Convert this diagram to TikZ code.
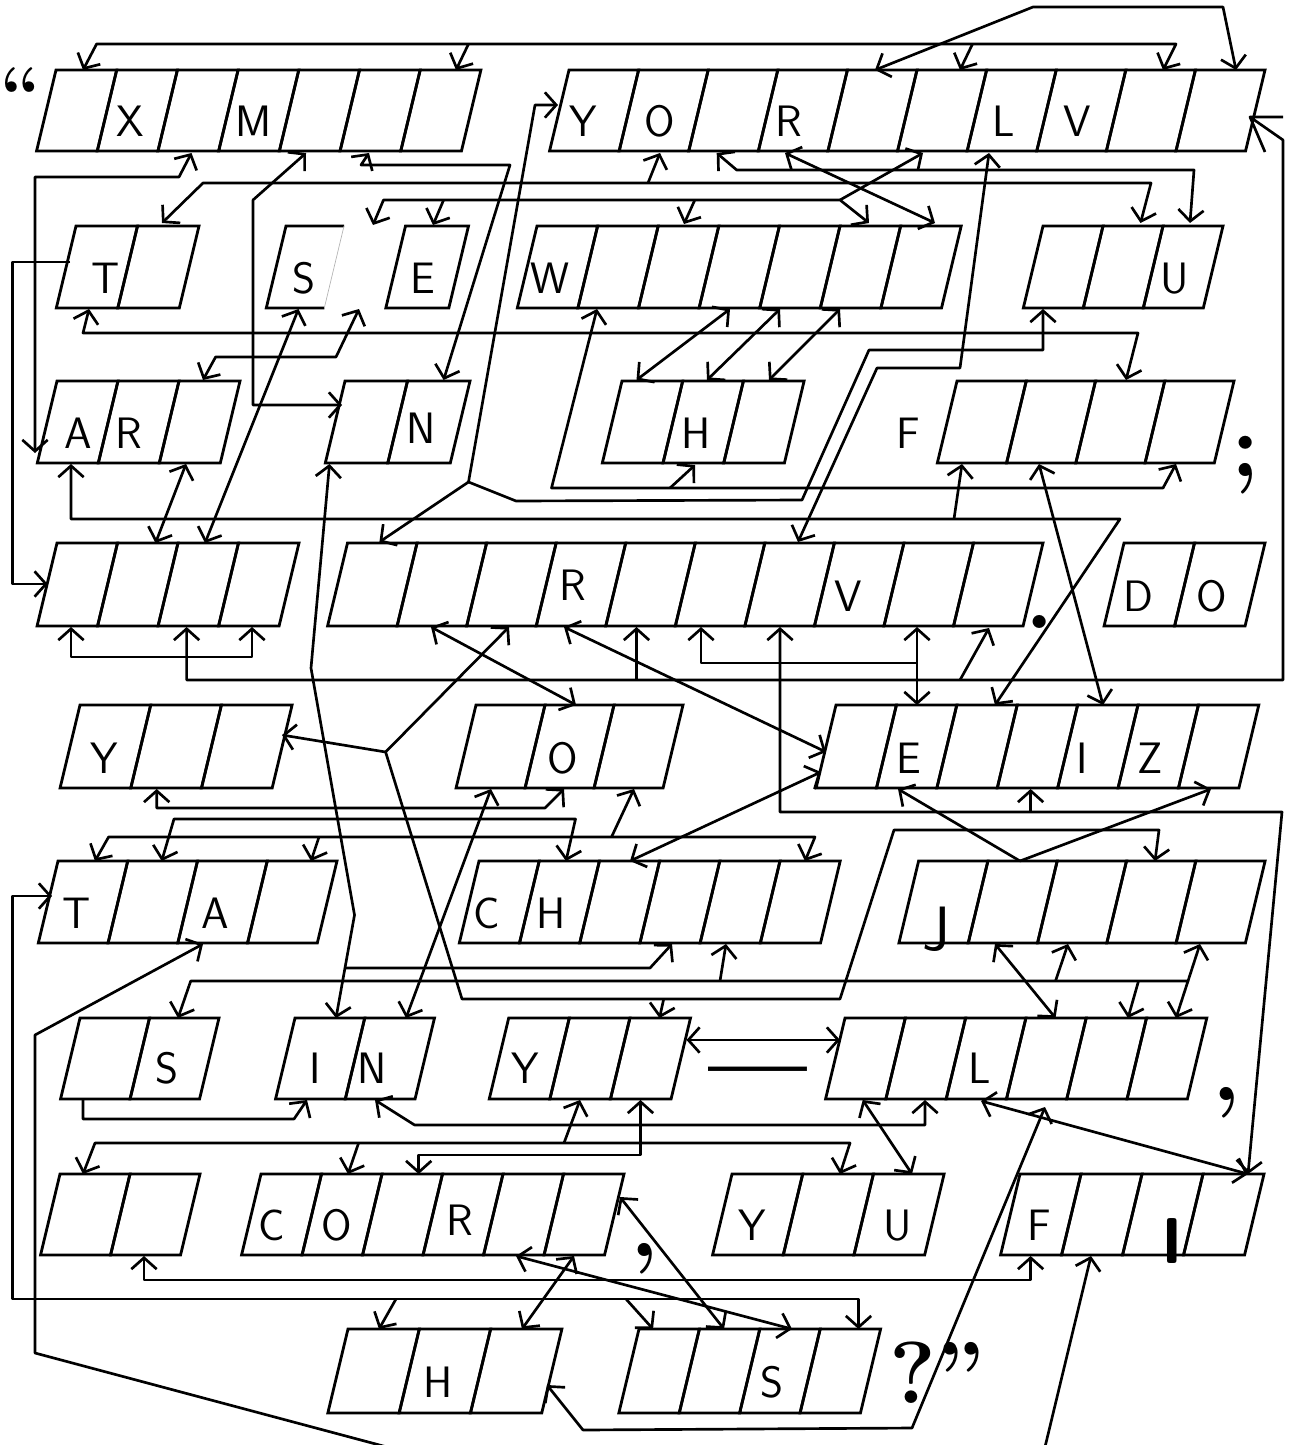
\documentclass[tikz,border=0pt]{standalone}
\usepackage{fontspec}
\usetikzlibrary{arrows.meta}
\newcommand{\cellrow}[5]{%
  \foreach \k in {1,...,#4}{%
    \draw[boxline] ({#1+(\k-1)*#5},#2) -- ({#1+\k*#5},#2) -- ({#1+\k*#5-0.24*(#3-#2)},#3) -- ({#1+(\k-1)*#5-0.24*(#3-#2)},#3) -- cycle;
  }}
\tikzset{
  boxline/.style={line width=2.1pt, line join=miter},
  conn/.style={line width=2pt, line join=round},
  arr/.style={conn, -{Straight Barb[length=8.5pt,width=19pt]}},
  barr/.style={conn, {Straight Barb[length=8.5pt,width=19pt]}-},
  darr/.style={conn, {Straight Barb[length=8.5pt,width=19pt]}-{Straight Barb[length=8.5pt,width=19pt]}},
  lab/.style={font=\fontsize{33}{36}\selectfont\sffamily, anchor=base, inner sep=0pt},
  pun/.style={font=\fontsize{68}{70}\selectfont\rmfamily\bfseries, anchor=base, inner sep=0pt},
}
\begin{document}
\begin{tikzpicture}[x=0.75pt,y=-0.75pt]
\useasboundingbox (0,0) rectangle (1295,1445);
% ---------------- boxes ----------------
\cellrow{56}{70}{151}{7}{60.7}
\cellrow{569}{70}{151}{10}{69.6}
\cellrow{76}{226}{308}{2}{61.5}
\draw[boxline] (344,226) -- (286,226) -- (266.3,308) -- (324.3,308);
\draw[line width=0.5pt, gray!60] (344,226) -- (324.3,308);
\cellrow{405.5}{226}{308}{1}{63}
\cellrow{537}{226}{308}{7}{60.6}
\cellrow{1043}{226}{308}{3}{60}
\cellrow{57}{381}{463}{3}{61}
\cellrow{345}{381}{463}{2}{62.5}
\cellrow{622}{381}{463}{3}{60.7}
\cellrow{957}{381}{463}{4}{69.25}
\cellrow{57}{543}{626}{4}{60.5}
\cellrow{347.5}{543}{626}{10}{69.55}
\cellrow{1124}{543}{626}{2}{70.5}
\cellrow{80}{705}{788}{3}{70.7}
\cellrow{476}{705}{788}{3}{69}
\cellrow{836}{705}{788}{7}{60.4}
\cellrow{58}{861}{943}{4}{69.75}
\cellrow{479}{861}{943}{6}{60.2}
\cellrow{918.6}{861}{943}{5}{69.3}
\cellrow{80}{1018}{1099}{2}{69.5}
\cellrow{295}{1018}{1099}{2}{69.75}
\cellrow{508.7}{1018}{1099}{3}{60.6}
\cellrow{845}{1018}{1099}{6}{60.3}
\cellrow{60}{1174}{1255}{2}{70}
\cellrow{261}{1174}{1255}{6}{60.5}
\cellrow{732}{1174}{1255}{3}{70.7}
\cellrow{1020}{1174}{1255}{4}{61}
\cellrow{348}{1329}{1413}{3}{71.3}
\cellrow{639}{1329}{1413}{4}{60.4}
% ---------------- labels ----------------
\node[lab] (l1) at (130.6,136) {X};
\node[lab] (l2) at (254,136) {M};
\node[lab] (l3) at (583,136) {Y};
\node[lab] (l4) at (660,136) {O};
\node[lab] (l5) at (789,136) {R};
\node[lab] (l6) at (1003.5,136) {L};
\node[lab] (l7) at (1077.5,136) {V};
\node[lab] (l8) at (105.8,293) {T};
\node[lab] (l9) at (303.6,293) {S};
\node[lab] (l10) at (423,293) {E};
\node[lab] (l11) at (550,293) {W};
\node[lab] (l12) at (1175,293) {U};
\node[lab] (l13) at (78.5,448) {A};
\node[lab] (l14) at (128.5,448) {R};
\node[lab] (l15) at (421,443) {N};
\node[lab] (l16) at (695.7,448) {H};
\node[lab] (l17) at (908.5,448) {F};
\node[lab] (l18) at (573,600) {R};
\node[lab] (l19) at (848,611) {V};
\node[lab] (l20) at (1138.7,611) {D};
\node[lab] (l21) at (1212,611) {O};
\node[lab] (l22) at (104.6,773) {Y};
\node[lab] (l23) at (563,773) {O};
\node[lab] (l24) at (908.5,773) {E};
\node[lab] (l25) at (1082,773) {I};
\node[lab] (l26) at (1150.6,773) {Z};
\node[lab] (l27) at (76.6,928) {T};
\node[lab] (l28) at (215.6,928) {A};
\node[lab] (l29) at (487,928) {C};
\node[lab] (l30) at (551.5,928) {H};
\node[lab, font=\fontsize{47}{50}\selectfont\sffamily] (l31) at (936,950) {J};
\node[lab] (l32) at (167,1083) {S};
\node[lab] (l33) at (315,1083) {I};
\node[lab] (l34) at (372,1083) {N};
\node[lab] (l35) at (525.6,1083) {Y};
\node[lab] (l36) at (980,1083) {L};
\node[lab] (l37) at (271.5,1240) {C};
\node[lab] (l38) at (337,1240) {O};
\node[lab] (l39) at (460,1235) {R};
\node[lab] (l40) at (752,1240) {Y};
\node[lab] (l41) at (898,1240) {U};
\node[lab] (l42) at (1039,1240) {F};
\node[lab, font=\fontsize{48.6}{50}\selectfont\sffamily\bfseries] (l43) at (1172,1263) {I};
\node[lab] (l44) at (437.6,1397) {H};
\node[lab] (l45) at (771.6,1397) {S};
% punctuation
\node[pun, font=\fontsize{55}{58}\selectfont\rmfamily\bfseries] (p1) at (21,118) {“};
\node[pun] (p2) at (1246,476) {;};
\node[pun] (p3) at (1040,628) {.};
\node[pun] (p4) at (1227,1100) {,};
\node[pun] (p5) at (645,1256) {,};
\node[pun, font=\fontsize{66}{70}\selectfont\rmfamily\bfseries] (p6) at (758,1105) {\scalebox{1}[1.5]{—}};
\node[pun, anchor=base west, font=\fontsize{66}{70}\selectfont\rmfamily\bfseries] (p7) at (889,1403) {?”};
% ---------------- connectors ----------------
\draw[darr] (83,70) -- (96.6,44) -- (1176,44) -- (1163,70);
\draw[arr] (468.5,44) -- (456,70);
\draw[arr] (972.5,44) -- (960,70);
\draw[darr] (875,70) -- (1033,7) -- (1223,7) -- (1236,70);
\draw[barr] (186.6,627) -- (186.6,680) -- (1283,680) -- (1283,140) -- (1250,117);
\draw[conn] (1283,117) -- (1250,117) -- (1265,152);
\draw[arr] (636.5,680) -- (636.5,627);
\draw[arr] (960,680) -- (989,628);
\draw[darr] (191.5,153) -- (179,177) -- (35,177) -- (35,453);
\draw[arr] (70,262) -- (12.4,262) -- (12.4,584) -- (47.7,584);
\draw[darr] (306,153) -- (253,200) -- (253,405) -- (342,405);
\draw[darr] (369,153) -- (361,165) -- (510,165) -- (443.6,380);
\draw[darr] (162,223) -- (203,183) -- (1151,183) -- (1140.5,223);
\draw[arr] (648,183) -- (660,153);
\draw[darr] (373,225) -- (383.5,200) -- (840,200) -- (869,223);
\draw[arr] (443.6,200) -- (433,225);
\draw[arr] (694.8,200) -- (684,224);
\draw[arr] (840,200) -- (923,153);
\draw[darr] (716.7,153) -- (736.7,170) -- (1194,170) -- (1190,223);
\draw[darr] (785,153) -- (935,223);
\draw[darr] (989,153) -- (960,368) -- (877,368) -- (798,542);
\draw[darr] (558,105) -- (535,105) -- (468.5,482) -- (379.4,542);
\draw[arr] (468.5,482) -- (516,501) -- (802,500) -- (869,350) -- (1043,350) -- (1043,309);
\draw[darr] (597,309) -- (551.5,488) -- (1163,488) -- (1176,464);
\draw[arr] (670,488) -- (695,465);
\draw[darr] (71,464) -- (71,519) -- (1120,519) -- (995,705);
\draw[arr] (954,519) -- (962,464);
\draw[darr] (1039,464) -- (1103,705);
\draw[darr] (89,309) -- (83,333) -- (1138,333) -- (1126,380);
\draw[darr] (636.5,380) -- (730,309);
\draw[darr] (707,380) -- (780,309);
\draw[darr] (769,380) -- (840,309);
\draw[darr] (203,380) -- (215.6,357) -- (336,357) -- (359,309);
\draw[darr] (205,543) -- (298.5,309);
\draw[darr] (155.5,543) -- (186,464);
\draw[darr] (329.5,464) -- (311,668) -- (354.5,915) -- (336,1018);
\draw[arr] (345,968) -- (650,968) -- (672,944);
\draw[darr] (71,627) -- (71,657) -- (252,657) -- (252,627);
\draw[darr] (431,627) -- (576,705);
\draw[arr] (385.6,752) -- (509,627);
\draw[arr] (385.6,752) -- (282,735);
\draw[arr] (385.6,752) -- (462,999) -- (840,999) -- (894,830) -- (1159,830) -- (1155,861);
\draw[arr] (663.7,999) -- (659.5,1018);
\draw[darr] (564,627) -- (826,752);
\draw[barr] (701,627) -- (701,663) -- (917,663);
\draw[darr] (917,627) -- (917,705);
\draw[darr] (780,627) -- (780,812) -- (1282,812) -- (1248,1174);
\draw[arr] (1030.6,812) -- (1030.6,789);
\draw[arr] (1020,861) -- (898,789);
\draw[arr] (1020,861) -- (1211,789);
\draw[darr] (630,861) -- (821,772);
\draw[darr] (95,861) -- (108.6,837) -- (815,837) -- (805,861);
\draw[arr] (319,837) -- (311,861);
\draw[arr] (611.5,837) -- (634,789);
\draw[darr] (161.7,861) -- (174,819) -- (575.5,819) -- (566,861);
\draw[darr] (156.7,789) -- (156.7,808) -- (545,808) -- (564,789);
\draw[darr] (491,789) -- (406,1018);
\draw[barr] (203,944) -- (35,1035) -- (35,1353) -- (387,1447);
\draw[darr] (52,896) -- (12.4,896) -- (12.4,1299) -- (858.5,1299) -- (858.5,1329);
\draw[arr] (396,1299) -- (379,1329);
\draw[arr] (626,1299) -- (653,1329);
\draw[darr] (144,1256) -- (144,1280) -- (1030.6,1280) -- (1030.6,1256);
\draw[darr] (516,1256) -- (792,1329);
\draw[darr] (620,1197) -- (724,1329);
\draw[darr] (574,1256) -- (522,1329);
\draw[darr] (547,1385) -- (583,1430) -- (912,1428) -- (1045,1107);
\draw[arr] (83,1100) -- (83,1119) -- (294,1119) -- (307,1100);
\draw[darr] (375,1100) -- (414.6,1125) -- (925,1125) -- (925,1100);
\draw[darr] (83,1174) -- (95,1143) -- (850,1143) -- (840,1174);
\draw[arr] (564,1143) -- (580,1100);
\draw[arr] (358.6,1143) -- (348,1174);
\draw[darr] (640.5,1100) -- (640.5,1155) -- (418.7,1155) -- (418.7,1174);
\draw[darr] (686.5,1040) -- (840,1040);
\draw[darr] (862.7,1100) -- (912,1174);
\draw[darr] (981,1101) -- (1248,1174);
\draw[darr] (178,1018) -- (190.7,981) -- (1188,981) -- (1176,1018);
\draw[arr] (1138.5,981) -- (1128,1018);
\draw[arr] (1188,981) -- (1200,944);
\draw[arr] (1055.5,981) -- (1068,944);
\draw[arr] (720,981) -- (726,944);
\draw[darr] (995,944) -- (1055.5,1018);
\draw[arr] (1045,1447) -- (1091,1256);
\end{tikzpicture}
\end{document}
